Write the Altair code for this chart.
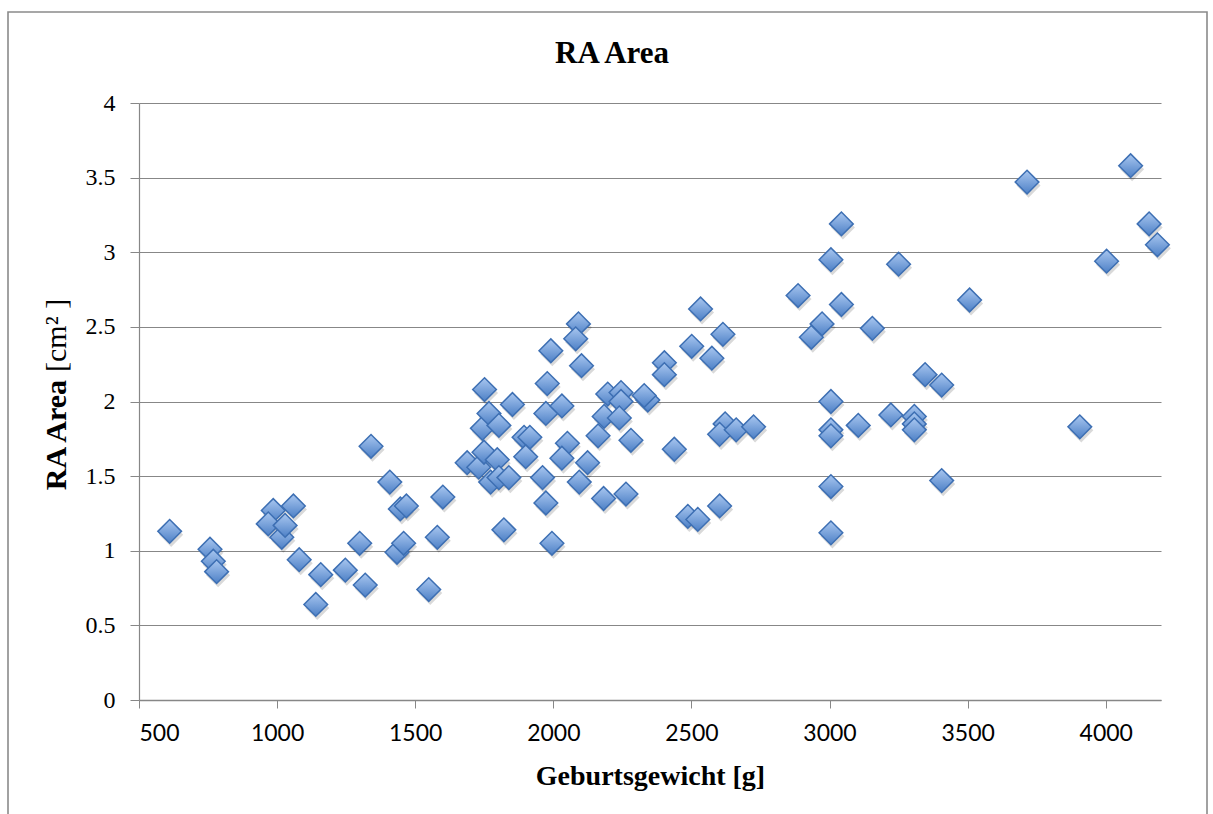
import altair as alt
import pandas as pd

# Birth weight [g]
weight = [
    611, 757, 769, 781, 986, 968, 1017, 1029, 1059, 1080,
    1158, 1140, 1247, 1299, 1319, 1340, 1408, 1434, 1458, 1446,
    1468, 1549, 1580, 1600, 1688, 1730, 1749, 1743, 1751, 1767,
    1803, 1797, 1773, 1803, 1839, 1821, 1852, 1894, 1915, 1900,
    1961, 1973, 1973, 1995, 1978,
    3005, 3043, 3250, 2886, 3043, 2973, 2934, 3155, 2533, 2614,
    2501, 2574, 2402, 2402, 2091, 2081, 1991, 2102, 2031, 2197,
    2245, 2245, 2342, 2329, 2184, 2239, 2162, 2281, 2051, 2031,
    2124, 2094, 2182, 2263, 2438, 2622, 2602, 2662, 2725, 3005,
    3005, 3005, 3104, 3222, 3005, 3005, 2487, 2523, 2602,
    3715, 4090, 4157, 4187, 4003, 3507, 3346, 3406, 3307, 3307,
    3307, 3906, 3406,
]
# RA area [cm^2]
area = [
    1.13, 1.01, 0.93, 0.86, 1.27, 1.18, 1.09, 1.17, 1.30, 0.94,
    0.84, 0.64, 0.87, 1.05, 0.77, 1.70, 1.46, 0.99, 1.05, 1.28,
    1.30, 0.74, 1.09, 1.36, 1.59, 1.56, 1.66, 1.82, 2.08, 1.92,
    1.84, 1.61, 1.46, 1.49, 1.49, 1.14, 1.98, 1.76, 1.76, 1.63,
    1.49, 1.92, 1.32, 1.05, 2.12,
    2.95, 3.19, 2.92, 2.71, 2.65, 2.52, 2.43, 2.49, 2.62, 2.45,
    2.37, 2.29, 2.26, 2.18, 2.52, 2.42, 2.34, 2.24, 1.97, 2.05,
    2.06, 2.00, 2.01, 2.04, 1.90, 1.89, 1.77, 1.74, 1.72, 1.62,
    1.59, 1.46, 1.35, 1.38, 1.68, 1.85, 1.78, 1.81, 1.83, 2.00,
    1.81, 1.77, 1.84, 1.91, 1.43, 1.12, 1.23, 1.21, 1.30,
    3.47, 3.58, 3.19, 3.05, 2.94, 2.68, 2.18, 2.11, 1.90, 1.85,
    1.81, 1.83, 1.47,
]

x_ticks = [500, 1000, 1500, 2000, 2500, 3000, 3500, 4000]
y_ticks = [0, 0.5, 1, 1.5, 2, 2.5, 3, 3.5, 4]

chart_title = "RA Area"
x_title = "Geburtsgewicht [g]"
y_title_bold = "RA Area"
y_title_unit = "[cm² ]"

df = pd.DataFrame({"weight": weight, "area": area})
one = pd.DataFrame({"k": [0]})

GRAY = "#878787"
SERIF = "Liberation Serif"

x_enc = alt.X(
    "weight:Q",
    scale=alt.Scale(domain=[500, 4200], nice=False, zero=False),
    axis=alt.Axis(
        values=x_ticks,
        labelExpr="format(datum.value, 'd')",
        title=x_title,
        grid=False,
        labelFont="Lato",
        labelFontSize=23,
        labelColor="#000000",
        labelPadding=14,
        tickSize=8,
        tickColor=GRAY,
        domainColor=GRAY,
        domainWidth=1.3,
        titleFont=SERIF,
        titleFontSize=28,
        titleFontWeight="bold",
        titleColor="#000000",
        titleX=511,
        titleY=84,
        titleBaseline="alphabetic",
        titleAnchor="start",
        titleAlign="center",
    ),
)
y_enc = alt.Y(
    "area:Q",
    scale=alt.Scale(domain=[0, 4], nice=False),
    axis=alt.Axis(
        values=y_ticks,
        labelExpr="format(datum.value, '~g')",
        title=None,
        grid=True,
        gridColor=GRAY,
        gridWidth=1.1,
        labelFont=SERIF,
        labelFontSize=24,
        labelColor="#000000",
        labelPadding=15,
        tickSize=9,
        tickColor=GRAY,
        domainColor=GRAY,
        domainWidth=1.2,
    ),
)

base = alt.Chart(df)

shadow = base.mark_point(
    shape="diamond", filled=True, color="#000000", opacity=0.15,
    size=580, xOffset=1.5, yOffset=3.5, strokeWidth=0,
).encode(x=x_enc, y=y_enc)

points = base.mark_point(
    shape="diamond",
    filled=True,
    opacity=1,
    size=560,
    fill=alt.Gradient(
        gradient="linear",
        stops=[
            alt.GradientStop(color="#a9c7f0", offset=0),
            alt.GradientStop(color="#4d80c6", offset=1),
        ],
        x1=0, x2=0, y1=0, y2=1,
    ),
    stroke="#3d6fb3",
    strokeWidth=1.5,
).encode(x=x_enc, y=y_enc)

frame = alt.Chart(one).mark_rect(
    fill=None, stroke="#8a8a8a", strokeWidth=1.6
).encode(
    x=alt.value(-131),
    x2=alt.value(1068),
    y=alt.value(-91),
    y2=alt.value(730),
)

title_txt = alt.Chart(one).mark_text(
    text=chart_title, font=SERIF, fontSize=31, fontWeight="bold",
    color="#000000", align="center", baseline="alphabetic",
).encode(x=alt.value(473), y=alt.value(-40))

ytitle_bold = alt.Chart(one).mark_text(
    text=y_title_bold, font=SERIF, fontSize=30, fontWeight="bold",
    color="#000000", align="right", baseline="middle", angle=270,
).encode(x=alt.value(-82), y=alt.value(277))

ytitle_unit = alt.Chart(one).mark_text(
    text=y_title_unit, font=SERIF, fontSize=30, fontWeight="normal",
    color="#000000", align="left", baseline="middle", angle=270,
).encode(x=alt.value(-82), y=alt.value(269))

chart = alt.layer(frame, shadow, points, title_txt, ytitle_bold, ytitle_unit).properties(
    width=1022,
    height=597,
    autosize=alt.AutoSizeParams(type="none"),
    padding={"left": 139, "top": 103, "right": 52, "bottom": 114},
    background="#ffffff",
).configure_view(stroke=None)

chart.save("out.html", embed_options={"renderer": "svg", "actions": False})
